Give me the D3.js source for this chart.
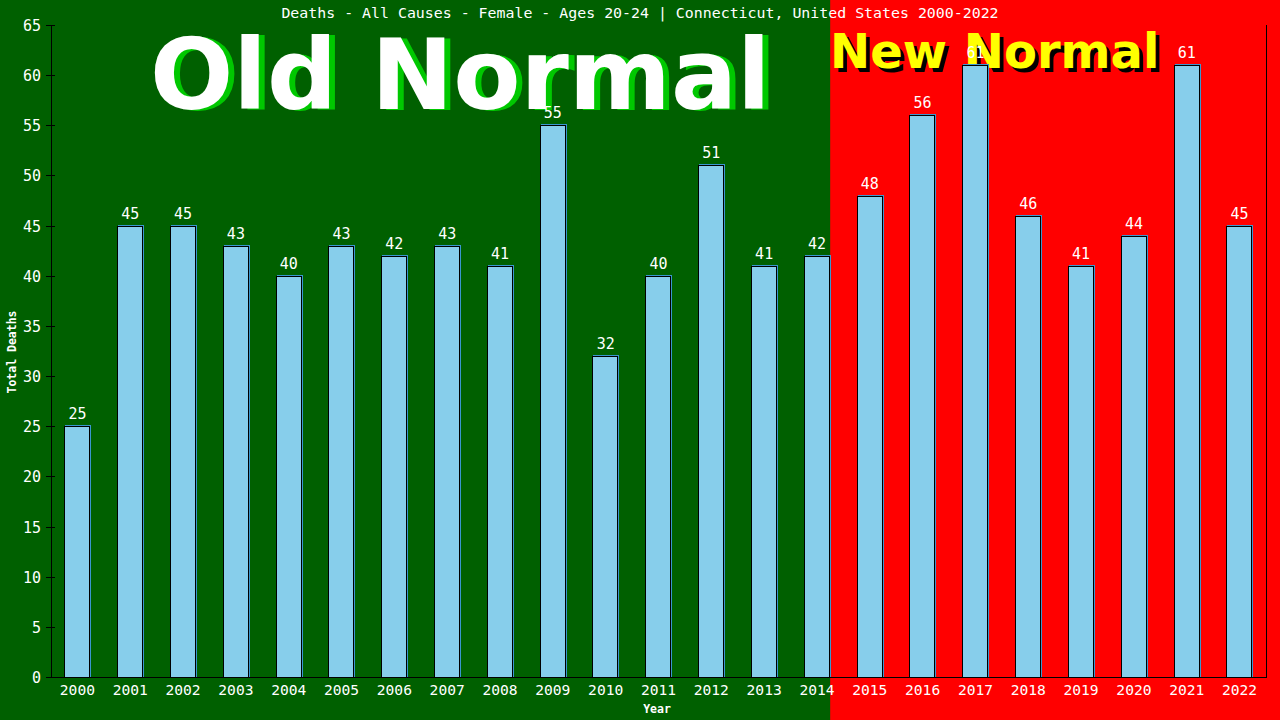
<!DOCTYPE html>
<html><head><meta charset="utf-8">
<script src="https://cdn.jsdelivr.net/npm/d3@7"></script>
<style>html,body{margin:0;padding:0;background:#006000;}svg{display:block;}</style>
</head><body>
<svg id="c" width="1280" height="720"></svg>
<script>
const years = ["2000","2001","2002","2003","2004","2005","2006","2007","2008","2009","2010","2011","2012","2013","2014","2015","2016","2017","2018","2019","2020","2021","2022"];
const deaths = [25,45,45,43,40,43,42,43,41,55,32,40,51,41,42,48,56,61,46,41,44,61,45];
const yTicks = [0,5,10,15,20,25,30,35,40,45,50,55,60,65];
const titleText = "Deaths - All Causes - Female - Ages 20-24 | Connecticut, United States 2000-2022";
const lastOldYear = "2014";

(function(){
const svg = d3.select("#c");
const W = 1280, H = 720;
const pL = 51, pR = 1266, pT = 25, pB = 677;
const mono = "'DejaVu Sans Mono', monospace";

const x = d3.scaleBand().domain(years).range([pL, pR]).paddingInner(0.5).paddingOuter(0.25);
const y = d3.scaleLinear().domain([0, 65]).range([pB, pT]);

const split = x(lastOldYear) + x.bandwidth();
svg.append("rect").attr("x",0).attr("y",0).attr("width",split).attr("height",H).attr("fill","#006000");
svg.append("rect").attr("x",split).attr("y",0).attr("width",W-split).attr("height",H).attr("fill","#ff0000");

const defs = svg.append("defs");
defs.append("filter").attr("id","soft").append("feGaussianBlur").attr("stdDeviation",0.6);

const bigFont = "'DejaVu Sans', Verdana, sans-serif";
svg.append("text").attr("x",156).attr("y",110).attr("font-family",bigFont).attr("font-weight","bold")
  .attr("font-size",98).attr("fill","#00c800").attr("filter","url(#soft)").text("Old Normal");
svg.append("text").attr("x",150).attr("y",109).attr("font-family",bigFont).attr("font-weight","bold")
  .attr("font-size",98).attr("fill","#ffffff").text("Old Normal");
svg.append("text").attr("x",834).attr("y",72).attr("font-family",bigFont).attr("font-weight","bold")
  .attr("font-size",48).attr("fill","#000000").attr("filter","url(#soft)").text("New Normal");
svg.append("text").attr("x",830).attr("y",68).attr("font-family",bigFont).attr("font-weight","bold")
  .attr("font-size",48).attr("fill","#ffff00").text("New Normal");

svg.append("text").attr("x",640).attr("y",18).attr("text-anchor","middle").attr("font-family",mono)
  .attr("font-size",14.9).attr("fill","#fff").text(titleText);

const g = svg.append("g");
years.forEach((yr,i)=>{
  const bx = x(yr), bw = x.bandwidth()-1, by = y(deaths[i]);
  g.append("rect").attr("x",Math.round(bx)+1.5).attr("y",Math.round(by)-0.5).attr("width",Math.round(bw)).attr("height",pB-Math.round(by))
    .attr("fill","none").attr("stroke","#3a96cf").attr("stroke-width",1);
  g.append("rect").attr("x",Math.round(bx)+0.5).attr("y",Math.round(by)+0.5).attr("width",Math.round(bw)).attr("height",pB-Math.round(by))
    .attr("fill","#87ceeb").attr("stroke","#000").attr("stroke-width",1);
  g.append("text").attr("x",bx+x.bandwidth()/2).attr("y",by-7).attr("text-anchor","middle")
    .attr("font-family",mono).attr("font-size",15).attr("fill","#fff").text(deaths[i]);
});

const ax = svg.append("g").attr("stroke","#000").attr("stroke-width",1).attr("shape-rendering","crispEdges");
ax.append("line").attr("x1",pL+0.5).attr("x2",pL+0.5).attr("y1",pT).attr("y2",pB+0.5);
ax.append("line").attr("x1",46).attr("x2",pR+0.5).attr("y1",pB+0.5).attr("y2",pB+0.5);
ax.append("line").attr("x1",pR+0.5).attr("x2",pR+0.5).attr("y1",pT).attr("y2",pB+0.5);
yTicks.forEach(t=>{
  const ty = Math.round(y(t))+0.5;
  ax.append("line").attr("x1",46).attr("x2",55).attr("y1",ty).attr("y2",ty);
  svg.append("text").attr("x",41).attr("y",ty+5).attr("text-anchor","end").attr("font-family",mono)
    .attr("font-size",15).attr("fill","#fff").text(t);
});
years.forEach(yr=>{
  svg.append("text").attr("x",x(yr)+x.bandwidth()/2).attr("y",695).attr("text-anchor","middle")
    .attr("font-family",mono).attr("font-size",14.6).attr("fill","#fff").text(yr);
});
svg.append("text").attr("x",657).attr("y",713).attr("text-anchor","middle").attr("font-family",mono)
  .attr("font-size",11.5).attr("font-weight","bold").attr("fill","#fff").text("Year");
svg.append("text").attr("transform","translate(16,352) rotate(-90)").attr("text-anchor","middle").attr("font-family",mono)
  .attr("font-size",11.5).attr("font-weight","bold").attr("fill","#fff").text("Total Deaths");
})();
</script>
</body></html>
